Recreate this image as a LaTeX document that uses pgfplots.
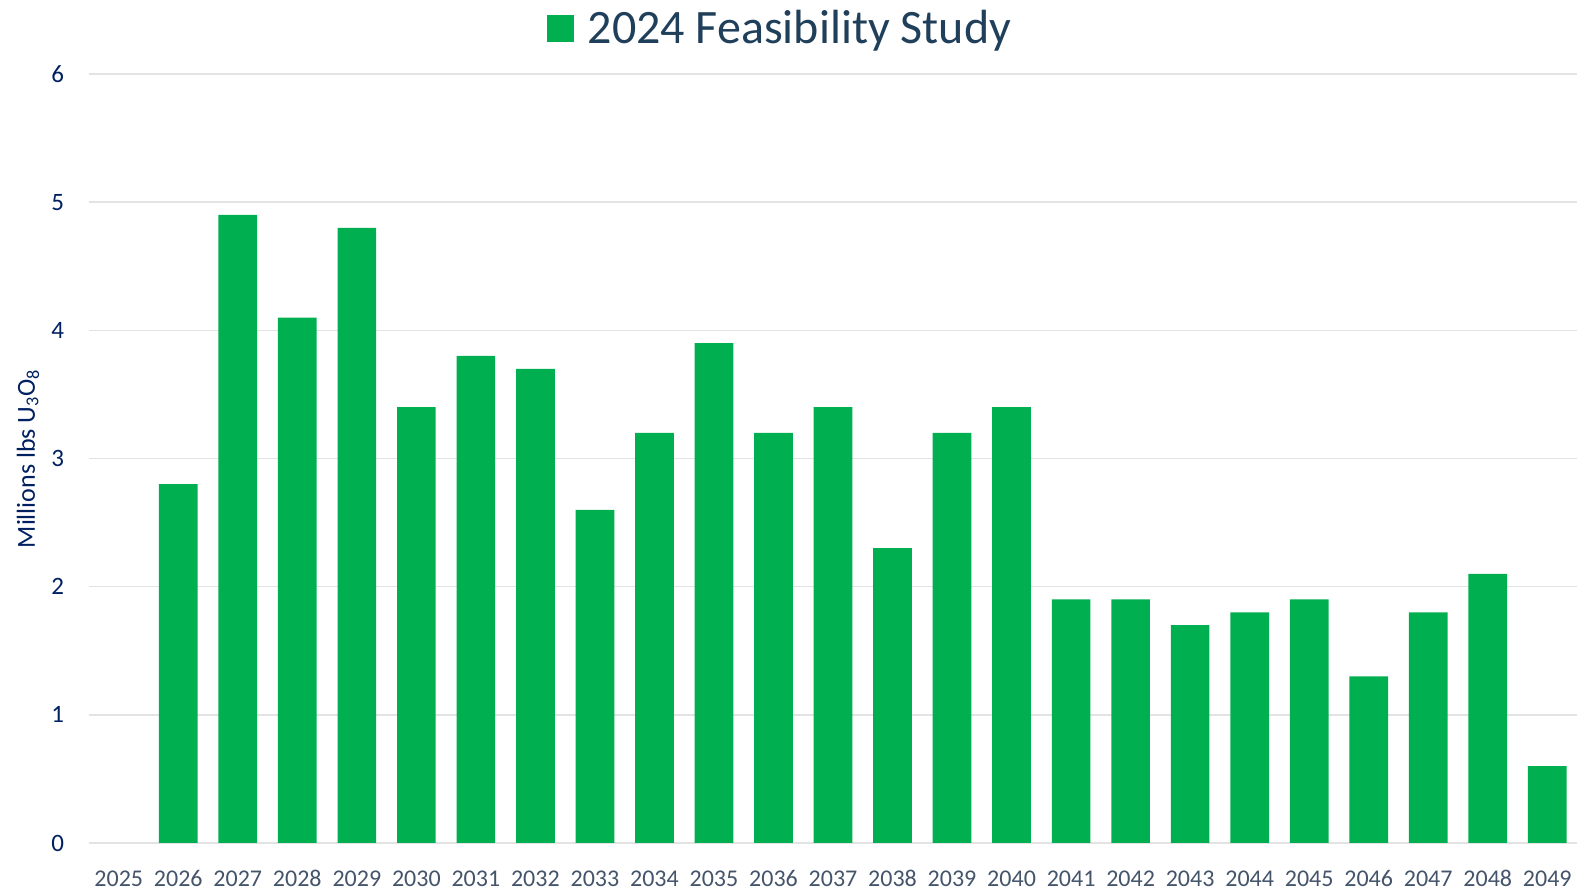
\documentclass[border=0pt]{standalone}
\usepackage{pgfplots}
\pgfplotsset{compat=1.18}
\usepackage{fontspec}
\setmainfont{Carlito}
\definecolor{barg}{HTML}{00B050}
\definecolor{ytc}{HTML}{002060}
\definecolor{xtc}{HTML}{44546A}
\definecolor{ttl}{HTML}{203F5A}
\definecolor{gridc}{HTML}{E3E3E3}
\begin{document}
\begin{tikzpicture}
\useasboundingbox (-44.5pt,-22pt) rectangle (752pt,421.5pt);
\begin{axis}[
  at={(0pt,0pt)}, anchor=south west,
  scale only axis, width=744pt, height=384.5pt,
  xmin=-0.5, xmax=24.5, ymin=0, ymax=6,
  xtick={0,...,24},
  xticklabels={2025,2026,2027,2028,2029,2030,2031,2032,2033,2034,2035,2036,2037,2038,2039,2040,2041,2042,2043,2044,2045,2046,2047,2048,2049},
  ytick={0,1,...,6},
  ymajorgrids, grid style={gridc, line width=0.8pt},
  axis line style={draw=none},
  major tick length=0pt,
  /pgf/number format/assume math mode=true,
  yticklabel style={font=\fontsize{12.5}{14}\selectfont, text=ytc, xshift=-9pt},
  xticklabel style={font=\fontsize{12}{14}\selectfont, text=xtc, yshift=-9.5pt, text height=8.5pt, text depth=0pt},
  every axis y label/.style={at={(axis description cs:-0.041,0.5)}, rotate=90, anchor=center},
  ylabel={Millions lbs U\textsubscript{3}O\textsubscript{8}},
  ylabel style={font=\fontsize{13}{15}\selectfont, text=ytc},
  legend style={at={(rel axis cs:0.465,1.059)}, anchor=center, draw=none, fill=none,
    font=\fontsize{24}{28}\selectfont, text=ttl},
  legend image code/.code={\path[fill=barg] (0pt,-6.75pt) rectangle (13.5pt,6.75pt);},
]
\addplot[ybar, bar width=0.65, fill=barg, draw=none] coordinates {
(1,2.8) (2,4.9) (3,4.1) (4,4.8) (5,3.4) (6,3.8) (7,3.7) (8,2.6) (9,3.2) (10,3.9)
(11,3.2) (12,3.4) (13,2.3) (14,3.2) (15,3.4) (16,1.9) (17,1.9) (18,1.7) (19,1.8)
(20,1.9) (21,1.3) (22,1.8) (23,2.1) (24,0.6)
};
\addlegendentry{\hspace{5pt}2024 Feasibility Study}
\end{axis}
\end{tikzpicture}
\end{document}
